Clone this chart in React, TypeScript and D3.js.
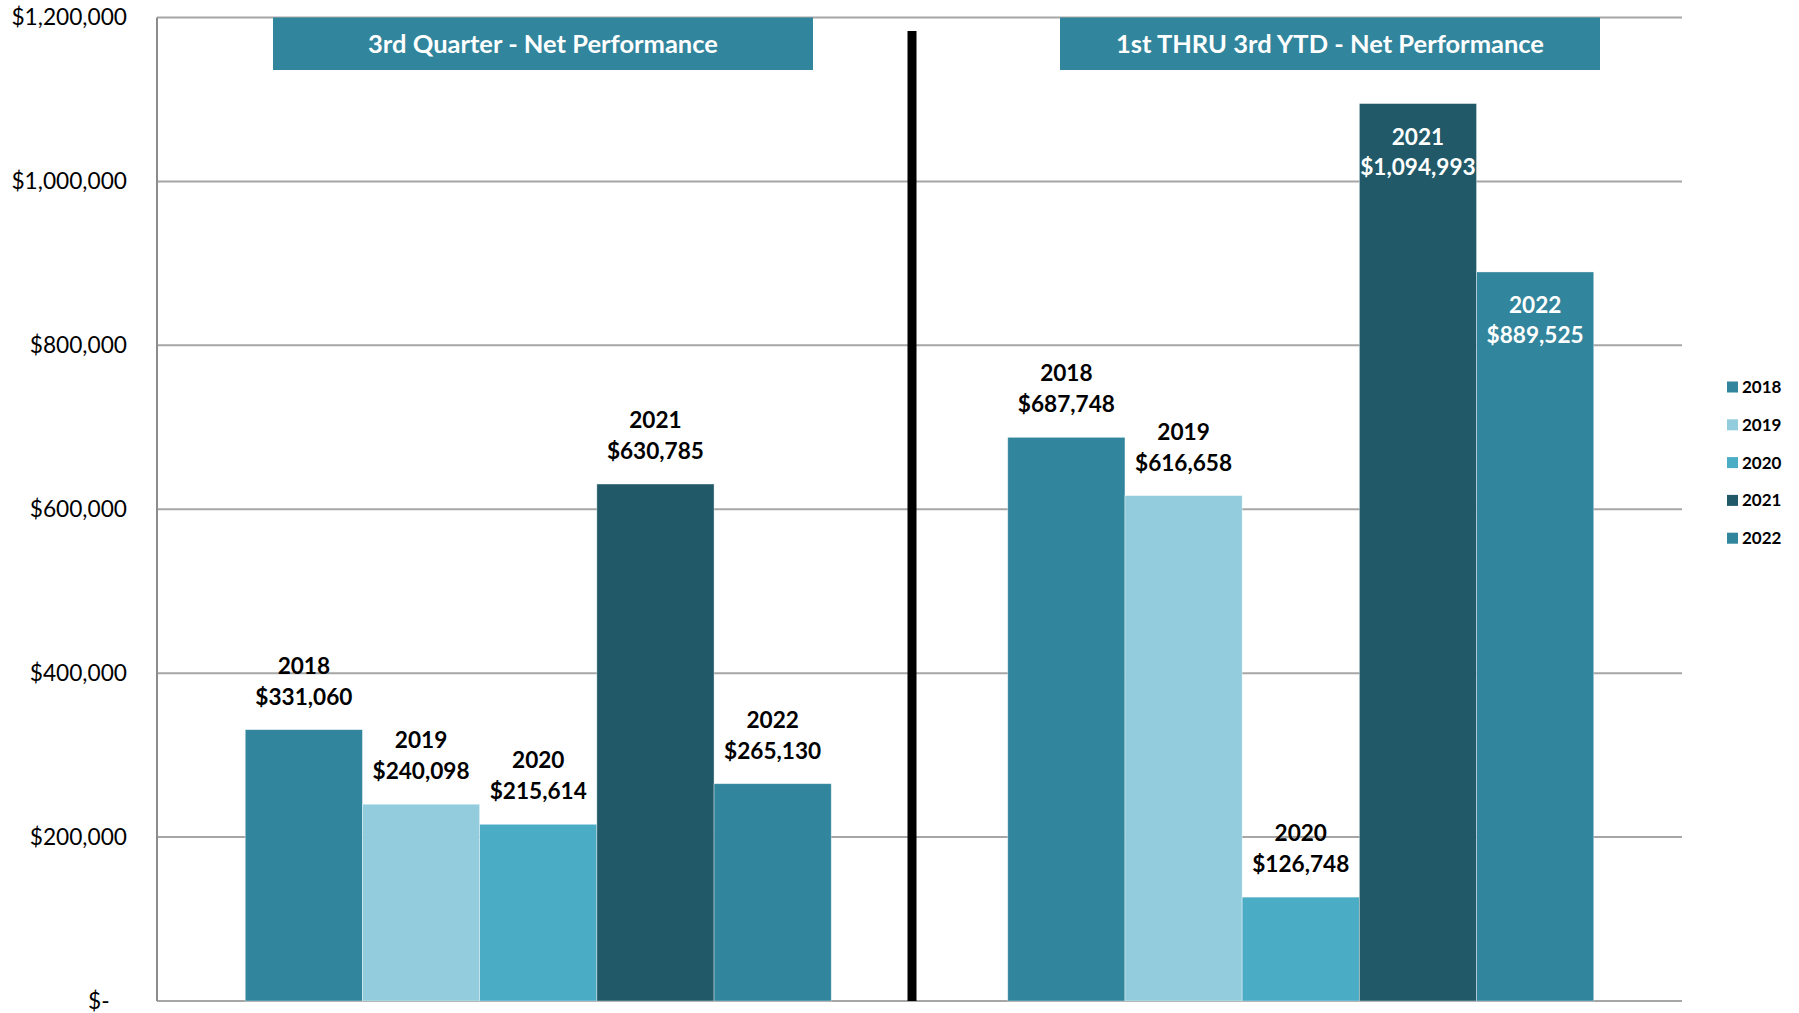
import React from 'react'
import * as d3 from 'd3'

const categories = ['3rd Quarter - Net Performance', '1st THRU 3rd YTD - Net Performance']
const years = ['2018', '2019', '2020', '2021', '2022']
const quarterValues = [331060, 240098, 215614, 630785, 265130]
const ytdValues = [687748, 616658, 126748, 1094993, 889525]
// labels drawn inside the bar top instead of above it
const ytdLabelInside = [false, false, false, true, true]
const quarterLabelInside = [false, false, false, false, false]
const yTicks = [0, 200000, 400000, 600000, 800000, 1000000, 1200000]

const colors = ['#31859c', '#93cddd', '#4bacc6', '#215968', '#31859c']
const font = 'Lato, "Open Sans", sans-serif'

export default function App() {
    const width = 1799
    const height = 1013
    const margin = { top: 17.5, right: 117, bottom: 12, left: 157 }
    const plotBottom = height - margin.bottom

    const y = d3.scaleLinear().domain([0, 1200000]).range([plotBottom, margin.top])
    const x0 = d3.scaleBand()
        .domain(categories)
        .range([margin.left, width - margin.right])
        .paddingInner(0.2315)
        .paddingOuter(0.11575)
    const x1 = d3.scaleBand().domain(years).range([0, x0.bandwidth()])

    const series = [quarterValues, ytdValues]
    const inside = [quarterLabelInside, ytdLabelInside]
    const fmt = d3.format('$,')

    // title boxes sit on top of each group, a bit off-centre like the original
    const titleBoxes = [
        { x: 273, w: 540 },
        { x: 1060, w: 540 },
    ]

    return (
        <svg width={width} height={height} style={{ position: 'absolute', left: 0, top: 0, background: '#fff' }}>
            {/* gridlines */}
            {yTicks.map(t => (
                <line key={t} x1={margin.left} x2={width - margin.right} y1={y(t)} y2={y(t)}
                    stroke="#a6a6a6" strokeWidth={2} />
            ))}
            <line x1={margin.left} x2={margin.left} y1={margin.top} y2={plotBottom} stroke="#8c8c8c" strokeWidth={2} />

            {/* y tick labels */}
            {yTicks.map(t => (
                <text key={t} x={127} y={y(t)} dy="0.35em" textAnchor="end"
                    fontFamily={font} fontSize={22.7} fill="#000" style={{ whiteSpace: 'pre' }}>
                    {t === 0 ? '$-\u00a0\u00a0\u00a0' : fmt(t)}
                </text>
            ))}

            {/* bars */}
            {categories.map((c, ci) => (
                <g key={c} transform={`translate(${x0(c)},0)`}>
                    {series[ci].map((v, i) => (
                        <rect key={years[i]} x={x1(years[i])} y={y(v)} width={x1.bandwidth()}
                            height={plotBottom - y(v)} fill={colors[i]}
                            stroke="#ffffff" strokeOpacity={0.5} strokeWidth={0.75} />
                    ))}
                    {series[ci].map((v, i) => {
                        const cx = (x1(years[i]) as number) + x1.bandwidth() / 2
                        const top = y(v)
                        const isIn = inside[ci][i]
                        const b1 = isIn ? top + 41 : top - 56
                        const b2 = isIn ? top + 71 : top - 25
                        const fill = isIn ? '#fff' : '#000'
                        return (
                            <g key={'l' + i} fontFamily={font} fontSize={22.6} fontWeight="bold" textAnchor="middle" fill={fill}>
                                <text x={cx} y={b1}>{years[i]}</text>
                                <text x={cx} y={b2}>{fmt(v)}</text>
                            </g>
                        )
                    })}
                </g>
            ))}

            {/* title boxes */}
            {categories.map((c, ci) => (
                <g key={'t' + c}>
                    <rect x={titleBoxes[ci].x} y={margin.top} width={titleBoxes[ci].w} height={52.5} fill="#31859c" />
                    <text x={titleBoxes[ci].x + titleBoxes[ci].w / 2} y={margin.top + 26.5} dy="0.35em"
                        textAnchor="middle" fontFamily={font} fontSize={25.5} fontWeight="bold" fill="#fff">
                        {c}
                    </text>
                </g>
            ))}

            {/* divider */}
            <line x1={912} x2={912} y1={31} y2={plotBottom} stroke="#000" strokeWidth={9} />

            {/* legend */}
            {years.map((yr, i) => (
                <g key={'lg' + yr} transform={`translate(1727,${387 + i * 37.8})`}>
                    <rect x={0} y={-5.5} width={11} height={11} fill={colors[i]} />
                    <text x={15} y={0} dy="0.35em" fontFamily={font} fontSize={17} fontWeight="bold" fill="#000">{yr}</text>
                </g>
            ))}
        </svg>
    )
}
